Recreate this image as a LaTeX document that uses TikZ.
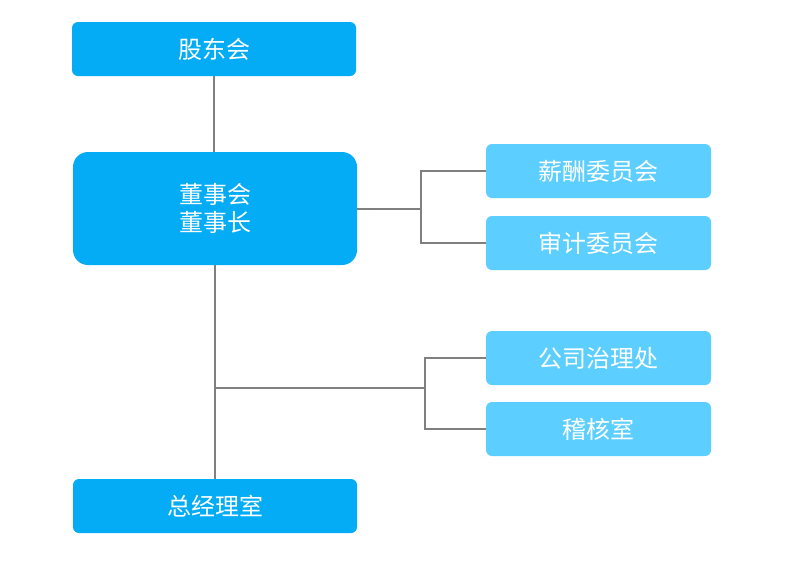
\documentclass[tikz,border=0pt]{standalone}
\usepackage{fontspec}
\newfontfamily\cjk{Noto Sans CJK SC}[Scale=1]
\begin{document}
\begin{tikzpicture}[x=1pt,y=-1pt,
  dark/.style={fill={rgb,255:red,3;green,172;blue,245}, draw=none, rounded corners=6pt, text=white, font=\cjk\fontsize{24}{28}\selectfont, align=center, inner sep=0pt},
  light/.style={fill={rgb,255:red,92;green,206;blue,255}, draw=none, rounded corners=6pt, text=white, font=\cjk\fontsize{24}{28}\selectfont, align=center, inner sep=0pt},
  conn/.style={draw={rgb,255:red,128;green,128;blue,128}, line width=1.6pt}]
\useasboundingbox (0,0) rectangle (792,582);
\fill[white] (0,0) rectangle (792,582);
% boxes
\node[dark, minimum width=284pt, minimum height=54pt] (gd) at (214,49) {股东会};
\node[dark, minimum width=284pt, minimum height=113pt, rounded corners=15pt] (dsh) at (215,208.5) {董事会\\董事长};
\node[dark, minimum width=284pt, minimum height=54pt] (zjl) at (215,506) {总经理室};
\node[light, minimum width=225pt, minimum height=54pt] (xc) at (598.5,171) {薪酬委员会};
\node[light, minimum width=225pt, minimum height=54pt] (sj) at (598.5,243) {审计委员会};
\node[light, minimum width=225pt, minimum height=54pt] (gs) at (598.5,358) {公司治理处};
\node[light, minimum width=225pt, minimum height=54pt] (jh) at (598.5,429) {稽核室};
% connectors
\coordinate (j1) at (421,209);
\coordinate (j2) at (214.5,388);
\coordinate (j3) at (425,388);
\draw[conn] (gd.south) -- (gd.south |- dsh.north);
\draw[conn] (dsh.east |- j1) -- (j1);
\draw[conn] (xc.west) -| (j1) |- (sj.west);
\draw[conn] (dsh.south) -- (dsh.south |- zjl.north);
\draw[conn] (j2) -- (j3);
\draw[conn] (gs.west) -| (j3) |- (jh.west);
\end{tikzpicture}
\end{document}
